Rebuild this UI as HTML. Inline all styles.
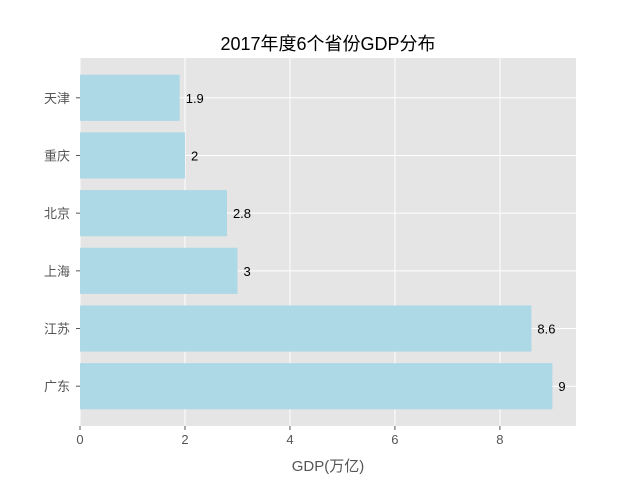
<!DOCTYPE html>
<html><head><meta charset="utf-8"><style>
body{margin:0;background:#fff;font-family:"Liberation Sans","Noto Sans CJK SC",sans-serif;}
</style></head><body>
<svg width="640" height="480" xmlns="http://www.w3.org/2000/svg" style="font-family:'Liberation Sans','Noto Sans CJK SC',sans-serif">
<g id="root"></g>
</svg>
<script>
const categories=["广东","江苏","上海","北京","重庆","天津"];
const values=[9,8.6,3,2.8,2,1.9];
const xTicks=[0,2,4,6,8];
const L=80,R=576,T=58,B=426;
const xMin=0,xMax=9.45,yMin=-0.69,yMax=5.69;
const xs=v=>L+(v-xMin)/(xMax-xMin)*(R-L);
const ys=v=>B-(v-yMin)/(yMax-yMin)*(B-T);
const NS="http://www.w3.org/2000/svg";
const root=document.getElementById('root');
function mk(tag,attrs,txt){const e=document.createElementNS(NS,tag);for(const k in attrs)e.setAttribute(k,attrs[k]);if(txt!==undefined)e.textContent=txt;root.appendChild(e);return e;}
let bg=mk('rect',{x:L,y:T,width:R-L,height:B-T,fill:'#e5e5e5'});


xTicks.forEach(t=>{
 let g=mk('line',{x1:xs(t),x2:xs(t),y1:T,y2:B,stroke:'#fff','stroke-width':1});
 
 
 let tk=mk('line',{x1:xs(t),x2:xs(t),y1:B,y2:B+4,stroke:'#555'});
 
 
 let lb=mk('text',{x:xs(t),y:B+18,'text-anchor':'middle','font-size':13,fill:'#555'},t);
 
 
});
categories.forEach((c,i)=>{
 let g=mk('line',{x1:L,x2:R,y1:ys(i),y2:ys(i),stroke:'#fff','stroke-width':1});
 
 
});
categories.forEach((c,i)=>{
 const v=values[i];
 let b=mk('rect',{x:xs(0),y:ys(i+0.4),width:xs(v)-xs(0),height:ys(i-0.4)-ys(i+0.4),fill:'#add8e6'});
 
 
 let vl=mk('text',{x:xs(v)+6,y:ys(i)+5,'font-size':13,fill:'#000'},v);
 
 
 let tk=mk('line',{x1:L-4,x2:L,y1:ys(i),y2:ys(i),stroke:'#555'});
 
 
 let lb=mk('text',{x:L-10,y:ys(i)+5,'text-anchor':'end','font-size':13,fill:'#555'},c);
 
 
});
let xt=mk('text',{x:(L+R)/2,y:471,'text-anchor':'middle','font-size':15,fill:'#555'},'GDP(万亿)');


let tt=mk('text',{x:(L+R)/2,y:50,'text-anchor':'middle','font-size':18,fill:'#000'},'2017年度6个省份GDP分布');


</script>
</body></html>
